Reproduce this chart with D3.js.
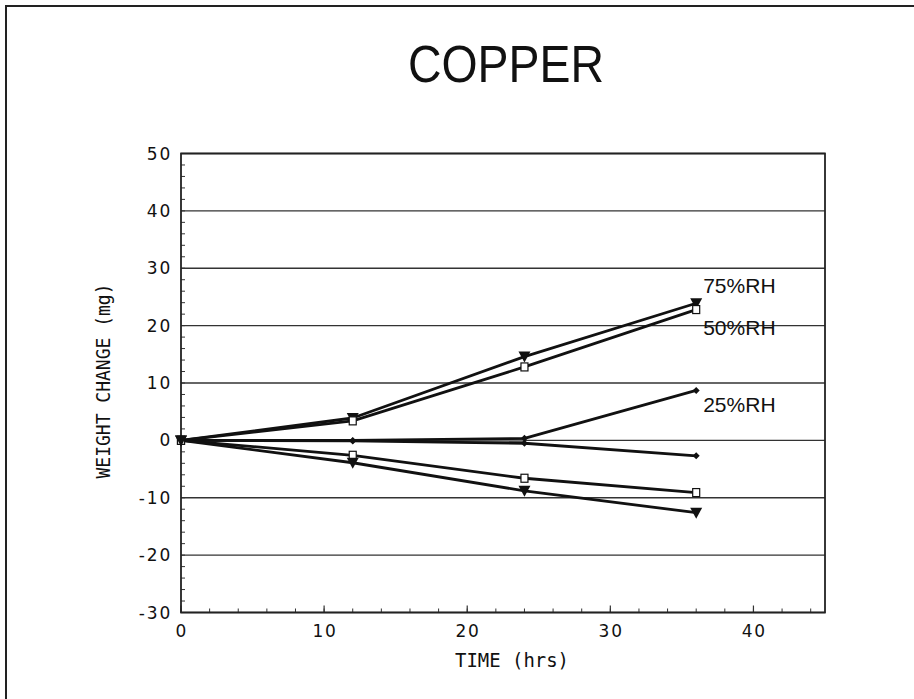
<!DOCTYPE html>
<html>
<head>
<meta charset="utf-8">
<script src="https://cdn.jsdelivr.net/npm/d3@7/dist/d3.min.js"></script>
<style>
  html, body { margin: 0; padding: 0; background: #fff; }
  svg { display: block; }
</style>
</head>
<body>
<svg id="chart" width="914" height="699"></svg>
<script>
// ---- data ----
const times = [0, 12, 24, 36];
const gain75 = [0, 3.9, 14.6, 23.9];
const gain50 = [0, 3.4, 12.8, 22.8];
const gain25 = [0, 0.0, 0.35, 8.7];
const loss25 = [0, -0.1, -0.5, -2.7];
const loss50 = [0, -2.6, -6.6, -9.1];
const loss75 = [0, -3.9, -8.8, -12.6];
const yTicks = [-30, -20, -10, 0, 10, 20, 30, 40, 50];
const yTickLabels = ["-30", "-20", "-10", "0", "10", "20", "30", "40", "50"];
const xTicks = [0, 10, 20, 30, 40];
const xTickLabels = ["0", "10", "20", "30", "40"];
const seriesLabels = ["75%RH", "50%RH", "25%RH"];
const title = "COPPER";
const xTitle = "TIME (hrs)";
const yTitle = "WEIGHT CHANGE (mg)";

const series = [
  { vals: gain75, marker: "tri" },
  { vals: gain50, marker: "sq" },
  { vals: gain25, marker: "dia" },
  { vals: loss25, marker: "dia" },
  { vals: loss50, marker: "sq" },
  { vals: loss75, marker: "tri" }
];

const svg = d3.select("#chart");
const L = 181, R = 825, T = 153.5, B = 612.5;
const x = d3.scaleLinear().domain([0, 45]).range([L, R]);
const y = d3.scaleLinear().domain([-30, 50]).range([B, T]);

// outer frame (only top & left visible)
svg.append("rect").attr("x", 6).attr("y", 6).attr("width", 960).attr("height", 760)
  .attr("fill", "none").attr("stroke", "#222").attr("stroke-width", 2);

// title
svg.append("text").attr("x", 506).attr("y", 82).attr("text-anchor", "middle")
  .attr("font-family", "Liberation Sans Narrow, Liberation Sans, Arial, sans-serif")
  .attr("font-size", 52).attr("fill", "#111")
  .attr("textLength", 196).attr("lengthAdjust", "spacingAndGlyphs")
  .text(title);

// gridlines
svg.append("g").selectAll("line").data(yTicks).join("line")
  .attr("x1", L).attr("x2", R).attr("y1", d => y(d)).attr("y2", d => y(d))
  .attr("stroke", "#333").attr("stroke-width", 1.3);

// minor ticks on y axis
const yMinor = d3.range(-30, 50.01, 2);
svg.append("g").selectAll("line").data(yMinor).join("line")
  .attr("x1", L).attr("x2", L + 4).attr("y1", d => y(d)).attr("y2", d => y(d))
  .attr("stroke", "#333").attr("stroke-width", 1);
// ticks on x axis
const xMinor = d3.range(0, 45.01, 2);
svg.append("g").selectAll("line").data(xMinor).join("line")
  .attr("x1", d => x(d)).attr("x2", d => x(d)).attr("y1", B).attr("y2", B - 4)
  .attr("stroke", "#333").attr("stroke-width", 1);
svg.append("g").selectAll("line").data(xTicks).join("line")
  .attr("x1", d => x(d)).attr("x2", d => x(d)).attr("y1", B).attr("y2", B - 7)
  .attr("stroke", "#333").attr("stroke-width", 1.2);

// plot border
svg.append("rect").attr("x", L).attr("y", T).attr("width", R - L).attr("height", B - T)
  .attr("fill", "none").attr("stroke", "#222").attr("stroke-width", 1.8);

// tick labels
svg.append("g").selectAll("text").data(yTicks).join("text")
  .attr("x", L - 9).attr("y", d => y(d)).attr("dy", "0.36em")
  .attr("text-anchor", "end").attr("font-family", "DejaVu Sans, sans-serif")
  .attr("font-size", 17).attr("letter-spacing", 1.8).attr("fill", "#111")
  .text((d, i) => yTickLabels[i]);
svg.append("g").selectAll("text").data(xTicks).join("text")
  .attr("x", d => x(d) + 0.9).attr("y", B + 24)
  .attr("text-anchor", "middle").attr("font-family", "DejaVu Sans, sans-serif")
  .attr("font-size", 17).attr("letter-spacing", 1.8).attr("fill", "#111")
  .text((d, i) => xTickLabels[i]);

// axis titles
svg.append("text").attr("x", 512).attr("y", 667).attr("text-anchor", "middle")
  .attr("font-family", "DejaVu Sans Mono, monospace").attr("font-size", 19).attr("fill", "#111")
  .attr("textLength", 114).attr("lengthAdjust", "spacingAndGlyphs")
  .text(xTitle);
svg.append("text").attr("transform", "translate(110,381) rotate(-90)").attr("text-anchor", "middle")
  .attr("font-family", "DejaVu Sans Mono, monospace").attr("font-size", 19).attr("fill", "#111")
  .attr("textLength", 195).attr("lengthAdjust", "spacingAndGlyphs")
  .text(yTitle);

// gray band between 25% lines over middle segment
const band = times.map((t, i) => ({ t, hi: gain25[i], lo: loss25[i] })).slice(1, 3);
svg.append("path").datum(band)
  .attr("d", d3.area().x(d => x(d.t)).y0(d => y(d.lo)).y1(d => y(d.hi)))
  .attr("fill", "#777");

// lines
const line = d3.line().x((d, i) => x(times[i])).y(d => y(d));
svg.append("g").selectAll("path").data(series).join("path")
  .attr("d", d => line(d.vals)).attr("fill", "none")
  .attr("stroke", "#111").attr("stroke-width", 2.8).attr("stroke-linejoin", "round");

// markers
const mg = svg.append("g");
series.forEach(s => {
  s.vals.forEach((v, i) => {
    const cx = x(times[i]), cy = y(v);
    if (s.marker === "tri") {
      mg.append("path").attr("d", `M${cx - 6},${cy - 5} L${cx + 6},${cy - 5} L${cx},${cy + 6} Z`)
        .attr("fill", "#111");
    } else if (s.marker === "sq") {
      mg.append("rect").attr("x", cx - 3.5).attr("y", cy - 4).attr("width", 7).attr("height", 8)
        .attr("fill", "#fff").attr("stroke", "#111").attr("stroke-width", 1.2);
    } else {
      mg.append("path").attr("d", `M${cx},${cy - 3.5} L${cx + 3.5},${cy} L${cx},${cy + 3.5} L${cx - 3.5},${cy} Z`)
        .attr("fill", "#111");
    }
  });
});

// series labels
const labelY = [293, 335, 412];
svg.append("g").selectAll("text").data(seriesLabels).join("text")
  .attr("x", x(36) + 7).attr("y", (d, i) => labelY[i])
  .attr("font-family", "Liberation Sans, Arial, sans-serif").attr("font-size", 21)
  .attr("fill", "#111").text(d => d);
</script>
</body>
</html>
